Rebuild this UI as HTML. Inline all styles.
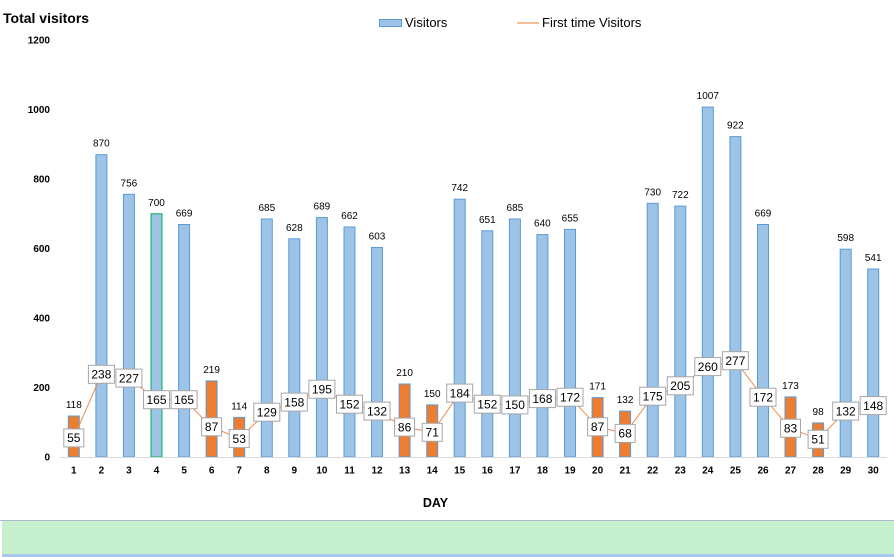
<!DOCTYPE html>
<html>
<head>
<meta charset="utf-8">
<style>
html,body{margin:0;padding:0;background:#fff;}
svg{display:block;font-family:"Liberation Sans",Arial,sans-serif;}
</style>
</head>
<body>
<svg width="894" height="557" viewBox="0 0 894 557" xmlns="http://www.w3.org/2000/svg">
<rect x="0" y="0" width="894" height="557" fill="#fff"/>
<!-- title -->
<text x="3" y="23" font-size="14" font-weight="bold" fill="#000">Total visitors</text>
<!-- legend -->
<rect x="379.5" y="19.5" width="22" height="7" fill="#9DC3E6" stroke="#5B9BD5" stroke-width="1"/>
<text x="405" y="27" font-size="13" fill="#000">Visitors</text>
<line x1="517" y1="23" x2="539" y2="23" stroke="#ED7D31" stroke-width="1"/>
<text x="542" y="27" font-size="13" fill="#000">First time Visitors</text>
<!-- y ticks -->
<g font-size="10" font-weight="bold" fill="#000" text-anchor="end">
<text x="50" y="460.5">0</text>
<text x="50" y="391">200</text>
<text x="50" y="321.5">400</text>
<text x="50" y="252">600</text>
<text x="50" y="182.5">800</text>
<text x="50" y="113">1000</text>
<text x="50" y="43.5">1200</text>
</g>
<!-- bars -->
<g stroke="#5B9BD5" stroke-width="1">
<rect x="68.3" y="416.0" width="11" height="41.0" fill="#ED7D31"/>
<rect x="95.9" y="154.7" width="11" height="302.3" fill="#9DC3E6"/>
<rect x="123.4" y="194.3" width="11" height="262.7" fill="#9DC3E6"/>
<rect x="151.0" y="213.8" width="11" height="243.2" fill="#9DC3E6" stroke="#00B050"/>
<rect x="178.6" y="224.5" width="11" height="232.5" fill="#9DC3E6"/>
<rect x="206.1" y="380.9" width="11" height="76.1" fill="#ED7D31"/>
<rect x="233.7" y="417.4" width="11" height="39.6" fill="#ED7D31"/>
<rect x="261.3" y="219.0" width="11" height="238.0" fill="#9DC3E6"/>
<rect x="288.8" y="238.8" width="11" height="218.2" fill="#9DC3E6"/>
<rect x="316.4" y="217.6" width="11" height="239.4" fill="#9DC3E6"/>
<rect x="344.0" y="227.0" width="11" height="230.0" fill="#9DC3E6"/>
<rect x="371.5" y="247.5" width="11" height="209.5" fill="#9DC3E6"/>
<rect x="399.1" y="384.0" width="11" height="73.0" fill="#ED7D31"/>
<rect x="426.7" y="404.9" width="11" height="52.1" fill="#ED7D31"/>
<rect x="454.2" y="199.2" width="11" height="257.8" fill="#9DC3E6"/>
<rect x="481.8" y="230.8" width="11" height="226.2" fill="#9DC3E6"/>
<rect x="509.4" y="219.0" width="11" height="238.0" fill="#9DC3E6"/>
<rect x="536.9" y="234.6" width="11" height="222.4" fill="#9DC3E6"/>
<rect x="564.5" y="229.4" width="11" height="227.6" fill="#9DC3E6"/>
<rect x="592.1" y="397.6" width="11" height="59.4" fill="#ED7D31"/>
<rect x="619.6" y="411.1" width="11" height="45.9" fill="#ED7D31"/>
<rect x="647.2" y="203.3" width="11" height="253.7" fill="#9DC3E6"/>
<rect x="674.8" y="206.1" width="11" height="250.9" fill="#9DC3E6"/>
<rect x="702.3" y="107.1" width="11" height="349.9" fill="#9DC3E6"/>
<rect x="729.9" y="136.6" width="11" height="320.4" fill="#9DC3E6"/>
<rect x="757.5" y="224.5" width="11" height="232.5" fill="#9DC3E6"/>
<rect x="785.0" y="396.9" width="11" height="60.1" fill="#ED7D31"/>
<rect x="812.6" y="422.9" width="11" height="34.1" fill="#ED7D31"/>
<rect x="840.2" y="249.2" width="11" height="207.8" fill="#9DC3E6"/>
<rect x="867.7" y="269.0" width="11" height="188.0" fill="#9DC3E6"/>
</g>
<!-- axis line -->
<line x1="60" y1="457.5" x2="887" y2="457.5" stroke="#D9D9D9" stroke-width="1"/>
<!-- bar labels -->
<g font-size="10" fill="#000" text-anchor="middle">
<text x="73.8" y="408.0">118</text>
<text x="101.4" y="146.7">870</text>
<text x="128.9" y="186.3">756</text>
<text x="156.5" y="205.8">700</text>
<text x="184.1" y="216.5">669</text>
<text x="211.6" y="372.9">219</text>
<text x="239.2" y="409.4">114</text>
<text x="266.8" y="211.0">685</text>
<text x="294.3" y="230.8">628</text>
<text x="321.9" y="209.6">689</text>
<text x="349.5" y="219.0">662</text>
<text x="377.0" y="239.5">603</text>
<text x="404.6" y="376.0">210</text>
<text x="432.2" y="396.9">150</text>
<text x="459.7" y="191.2">742</text>
<text x="487.3" y="222.8">651</text>
<text x="514.9" y="211.0">685</text>
<text x="542.4" y="226.6">640</text>
<text x="570.0" y="221.4">655</text>
<text x="597.6" y="389.6">171</text>
<text x="625.1" y="403.1">132</text>
<text x="652.7" y="195.3">730</text>
<text x="680.3" y="198.1">722</text>
<text x="707.8" y="99.1">1007</text>
<text x="735.4" y="128.6">922</text>
<text x="763.0" y="216.5">669</text>
<text x="790.5" y="388.9">173</text>
<text x="818.1" y="414.9">98</text>
<text x="845.7" y="241.2">598</text>
<text x="873.2" y="261.0">541</text>
</g>
<!-- line -->
<polyline fill="none" stroke="#F08A45" stroke-width="1" points="73.8,437.9 101.4,374.3 128.9,378.1 156.5,399.7 184.1,399.7 211.6,426.8 239.2,438.6 266.8,412.2 294.3,402.1 321.9,389.2 349.5,404.2 377.0,411.1 404.6,427.1 432.2,432.3 459.7,393.1 487.3,404.2 514.9,404.9 542.4,398.6 570.0,397.2 597.6,426.8 625.1,433.4 652.7,396.2 680.3,385.8 707.8,366.6 735.4,360.7 763.0,397.2 790.5,428.2 818.1,439.3 845.7,411.1 873.2,405.6"/>
<!-- line label boxes -->
<g fill="#fff" stroke="#A6A6A6" stroke-width="1">
<rect x="63.8" y="428.9" width="20" height="18"/>
<rect x="88.4" y="365.3" width="26" height="18"/>
<rect x="115.9" y="369.1" width="26" height="18"/>
<rect x="143.5" y="390.7" width="26" height="18"/>
<rect x="171.1" y="390.7" width="26" height="18"/>
<rect x="201.6" y="417.8" width="20" height="18"/>
<rect x="229.2" y="429.6" width="20" height="18"/>
<rect x="253.8" y="403.2" width="26" height="18"/>
<rect x="281.3" y="393.1" width="26" height="18"/>
<rect x="308.9" y="380.2" width="26" height="18"/>
<rect x="336.5" y="395.2" width="26" height="18"/>
<rect x="364.0" y="402.1" width="26" height="18"/>
<rect x="394.6" y="418.1" width="20" height="18"/>
<rect x="422.2" y="423.3" width="20" height="18"/>
<rect x="446.7" y="384.1" width="26" height="18"/>
<rect x="474.3" y="395.2" width="26" height="18"/>
<rect x="501.9" y="395.9" width="26" height="18"/>
<rect x="529.4" y="389.6" width="26" height="18"/>
<rect x="557.0" y="388.2" width="26" height="18"/>
<rect x="587.6" y="417.8" width="20" height="18"/>
<rect x="615.1" y="424.4" width="20" height="18"/>
<rect x="639.7" y="387.2" width="26" height="18"/>
<rect x="667.3" y="376.8" width="26" height="18"/>
<rect x="694.8" y="357.6" width="26" height="18"/>
<rect x="722.4" y="351.7" width="26" height="18"/>
<rect x="750.0" y="388.2" width="26" height="18"/>
<rect x="780.5" y="419.2" width="20" height="18"/>
<rect x="808.1" y="430.3" width="20" height="18"/>
<rect x="832.7" y="402.1" width="26" height="18"/>
<rect x="860.2" y="396.6" width="26" height="18"/>
</g>
<g font-size="12" fill="#000" text-anchor="middle">
<text x="73.8" y="442.2">55</text>
<text x="101.4" y="378.6">238</text>
<text x="128.9" y="382.4">227</text>
<text x="156.5" y="404.0">165</text>
<text x="184.1" y="404.0">165</text>
<text x="211.6" y="431.1">87</text>
<text x="239.2" y="442.9">53</text>
<text x="266.8" y="416.5">129</text>
<text x="294.3" y="406.4">158</text>
<text x="321.9" y="393.5">195</text>
<text x="349.5" y="408.5">152</text>
<text x="377.0" y="415.4">132</text>
<text x="404.6" y="431.4">86</text>
<text x="432.2" y="436.6">71</text>
<text x="459.7" y="397.4">184</text>
<text x="487.3" y="408.5">152</text>
<text x="514.9" y="409.2">150</text>
<text x="542.4" y="402.9">168</text>
<text x="570.0" y="401.5">172</text>
<text x="597.6" y="431.1">87</text>
<text x="625.1" y="437.7">68</text>
<text x="652.7" y="400.5">175</text>
<text x="680.3" y="390.1">205</text>
<text x="707.8" y="370.9">260</text>
<text x="735.4" y="365.0">277</text>
<text x="763.0" y="401.5">172</text>
<text x="790.5" y="432.5">83</text>
<text x="818.1" y="443.6">51</text>
<text x="845.7" y="415.4">132</text>
<text x="873.2" y="409.9">148</text>
</g>
<!-- x labels -->
<g font-size="10" font-weight="bold" fill="#000" text-anchor="middle">
<text x="73.8" y="473.5">1</text>
<text x="101.4" y="473.5">2</text>
<text x="128.9" y="473.5">3</text>
<text x="156.5" y="473.5">4</text>
<text x="184.1" y="473.5">5</text>
<text x="211.6" y="473.5">6</text>
<text x="239.2" y="473.5">7</text>
<text x="266.8" y="473.5">8</text>
<text x="294.3" y="473.5">9</text>
<text x="321.9" y="473.5">10</text>
<text x="349.5" y="473.5">11</text>
<text x="377.0" y="473.5">12</text>
<text x="404.6" y="473.5">13</text>
<text x="432.2" y="473.5">14</text>
<text x="459.7" y="473.5">15</text>
<text x="487.3" y="473.5">16</text>
<text x="514.9" y="473.5">17</text>
<text x="542.4" y="473.5">18</text>
<text x="570.0" y="473.5">19</text>
<text x="597.6" y="473.5">20</text>
<text x="625.1" y="473.5">21</text>
<text x="652.7" y="473.5">22</text>
<text x="680.3" y="473.5">23</text>
<text x="707.8" y="473.5">24</text>
<text x="735.4" y="473.5">25</text>
<text x="763.0" y="473.5">26</text>
<text x="790.5" y="473.5">27</text>
<text x="818.1" y="473.5">28</text>
<text x="845.7" y="473.5">29</text>
<text x="873.2" y="473.5">30</text>
</g>
<text x="435.5" y="507" font-size="12.5" font-weight="bold" fill="#000" text-anchor="middle">DAY</text>
<!-- bottom band -->
<rect x="0" y="520" width="894" height="1" fill="#A9B9CE"/>
<rect x="2" y="521" width="892" height="33" fill="#C6EFCE"/>
<rect x="2" y="554" width="892" height="3" fill="#A9C8EC"/>
</svg>
</body>
</html>
